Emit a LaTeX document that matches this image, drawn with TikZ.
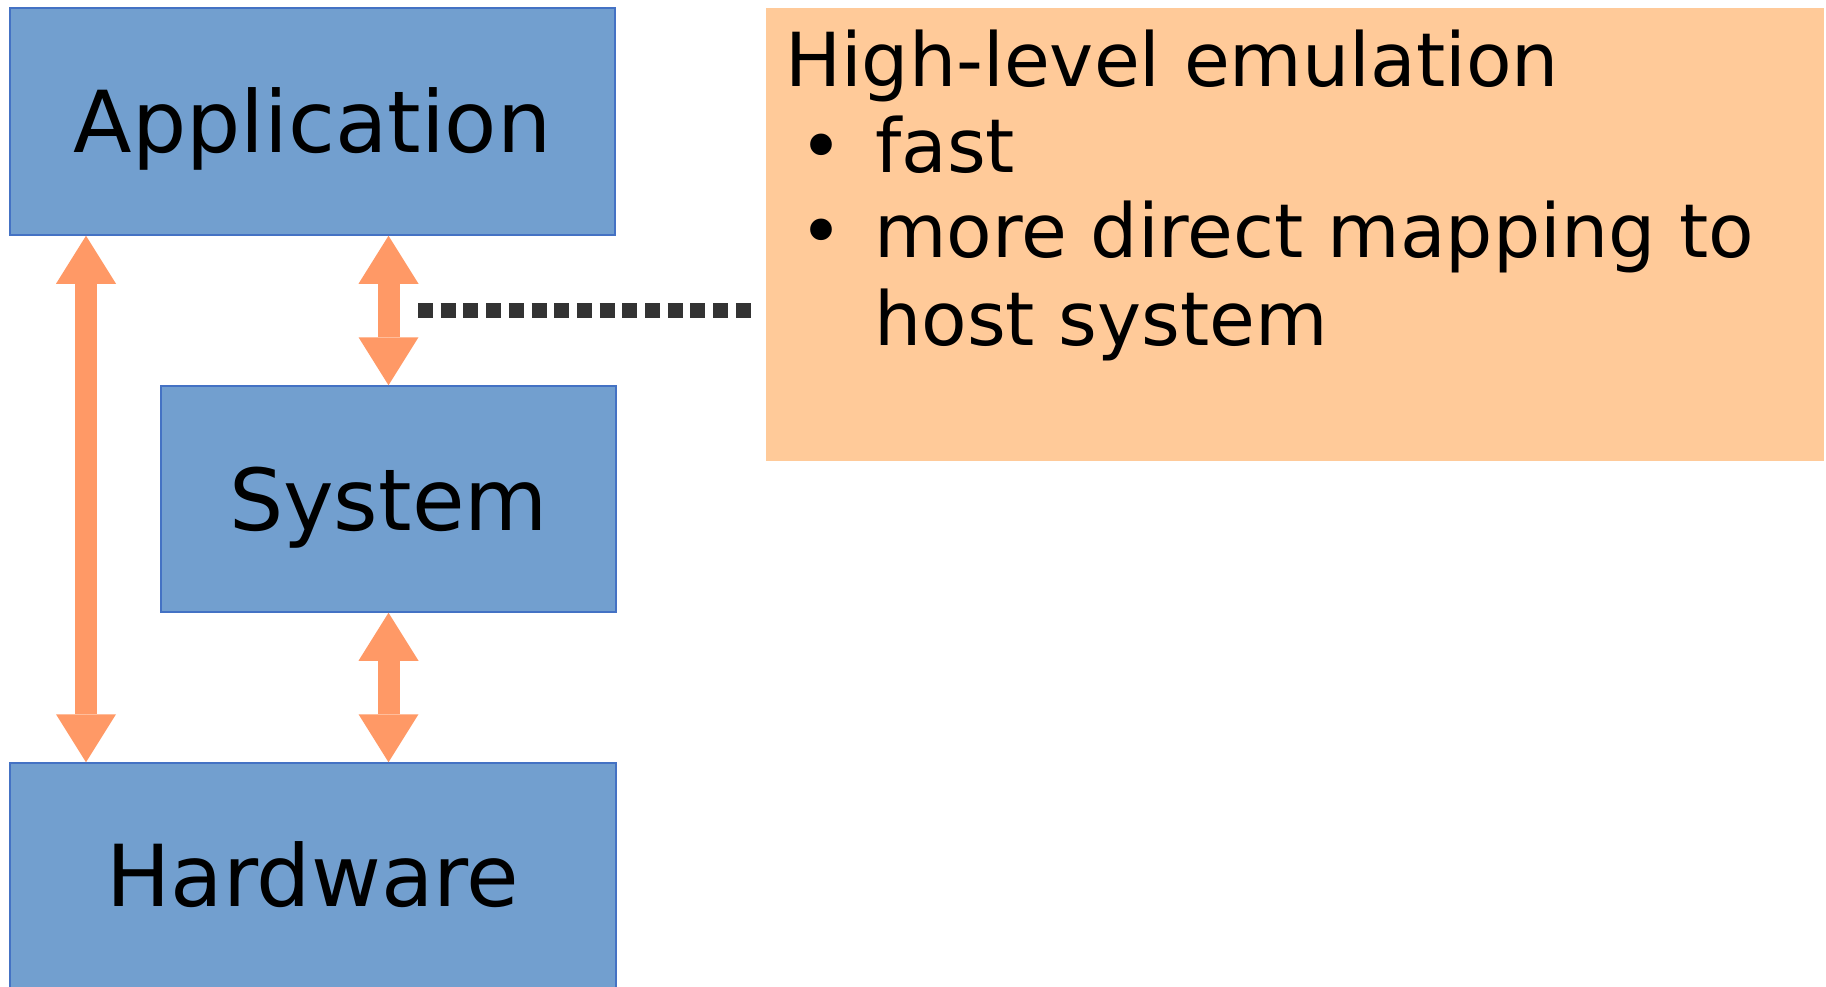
\documentclass[tikz,border=0pt]{standalone}
\usepackage{fontspec}
\setmainfont{DejaVu Sans}
\usetikzlibrary{arrows.meta}

\definecolor{layerfill}{HTML}{729FCF}
\definecolor{layerline}{HTML}{4472C4}
\definecolor{arrowc}{HTML}{FF9966}
\definecolor{notefill}{HTML}{FFCA99}
\definecolor{dotc}{HTML}{333333}

\tikzset{
  layer/.style={rectangle, fill=layerfill, draw=layerline, line width=1.5pt,
    inner sep=0pt, text height=62.3pt, text depth=0pt,
    font=\fontsize{85.5pt}{100pt}\selectfont},
  bigtip/.tip={Triangle[length=48pt,width=60pt,line width=0pt]},
  dblarrow/.style={draw=arrowc, fill=arrowc, line width=22pt, bigtip-bigtip},
  notebox/.style={rectangle, fill=notefill, draw=none, inner sep=0pt},
  notetext/.style={anchor=base west, inner sep=0pt,
    font=\fontsize{74.5pt}{86pt}\selectfont},
  dotline/.style={draw=dotc, line width=15pt, dash pattern=on 15pt off 7.7pt}
}

\begin{document}
\begin{tikzpicture}[x=1pt, y=-1pt]
  \useasboundingbox (0,0) rectangle (1826,987);

  % layer boxes
  \node[layer, minimum width=605pt, minimum height=227pt] (app) at (312.5,121.5) {Application};
  \node[layer, minimum width=455pt, minimum height=226pt] (sys) at (388.5,499) {System};
  \node[layer, minimum width=606pt, minimum height=225pt] (hw)  at (313,875.5) {Hardware};

  % explanation box
  \node[notebox, minimum width=1058pt, minimum height=453pt] (hle) at (1295,234.5) {};
  \node[notetext] (hletitle) at (785,87)  {High-level emulation};
  \node[notetext] (b1)       at (799,173) {•};
  \node[notetext] (fast)     at (875,173) {fast};
  \node[notetext] (b2)       at (799,258) {•};
  \node[notetext] (direct)   at (874,258) {more direct mapping to};
  \node[notetext] (host)     at (874,345) {host system};

  % interactions between layers
  \coordinate (lx) at (86,0);
  \draw[dblarrow] (app.south -| lx) -- (hw.north -| lx);
  \draw[dblarrow] (app.south -| sys.north) -- (sys.north);
  \draw[dblarrow] (sys.south) -- (hw.north -| sys.south);

  % dotted leader to the explanation
  \coordinate (dotA) at (418,310);
  \coordinate (dotB) at (752,310);
  \draw[dotline] (dotA) -- (dotB);
\end{tikzpicture}
\end{document}
